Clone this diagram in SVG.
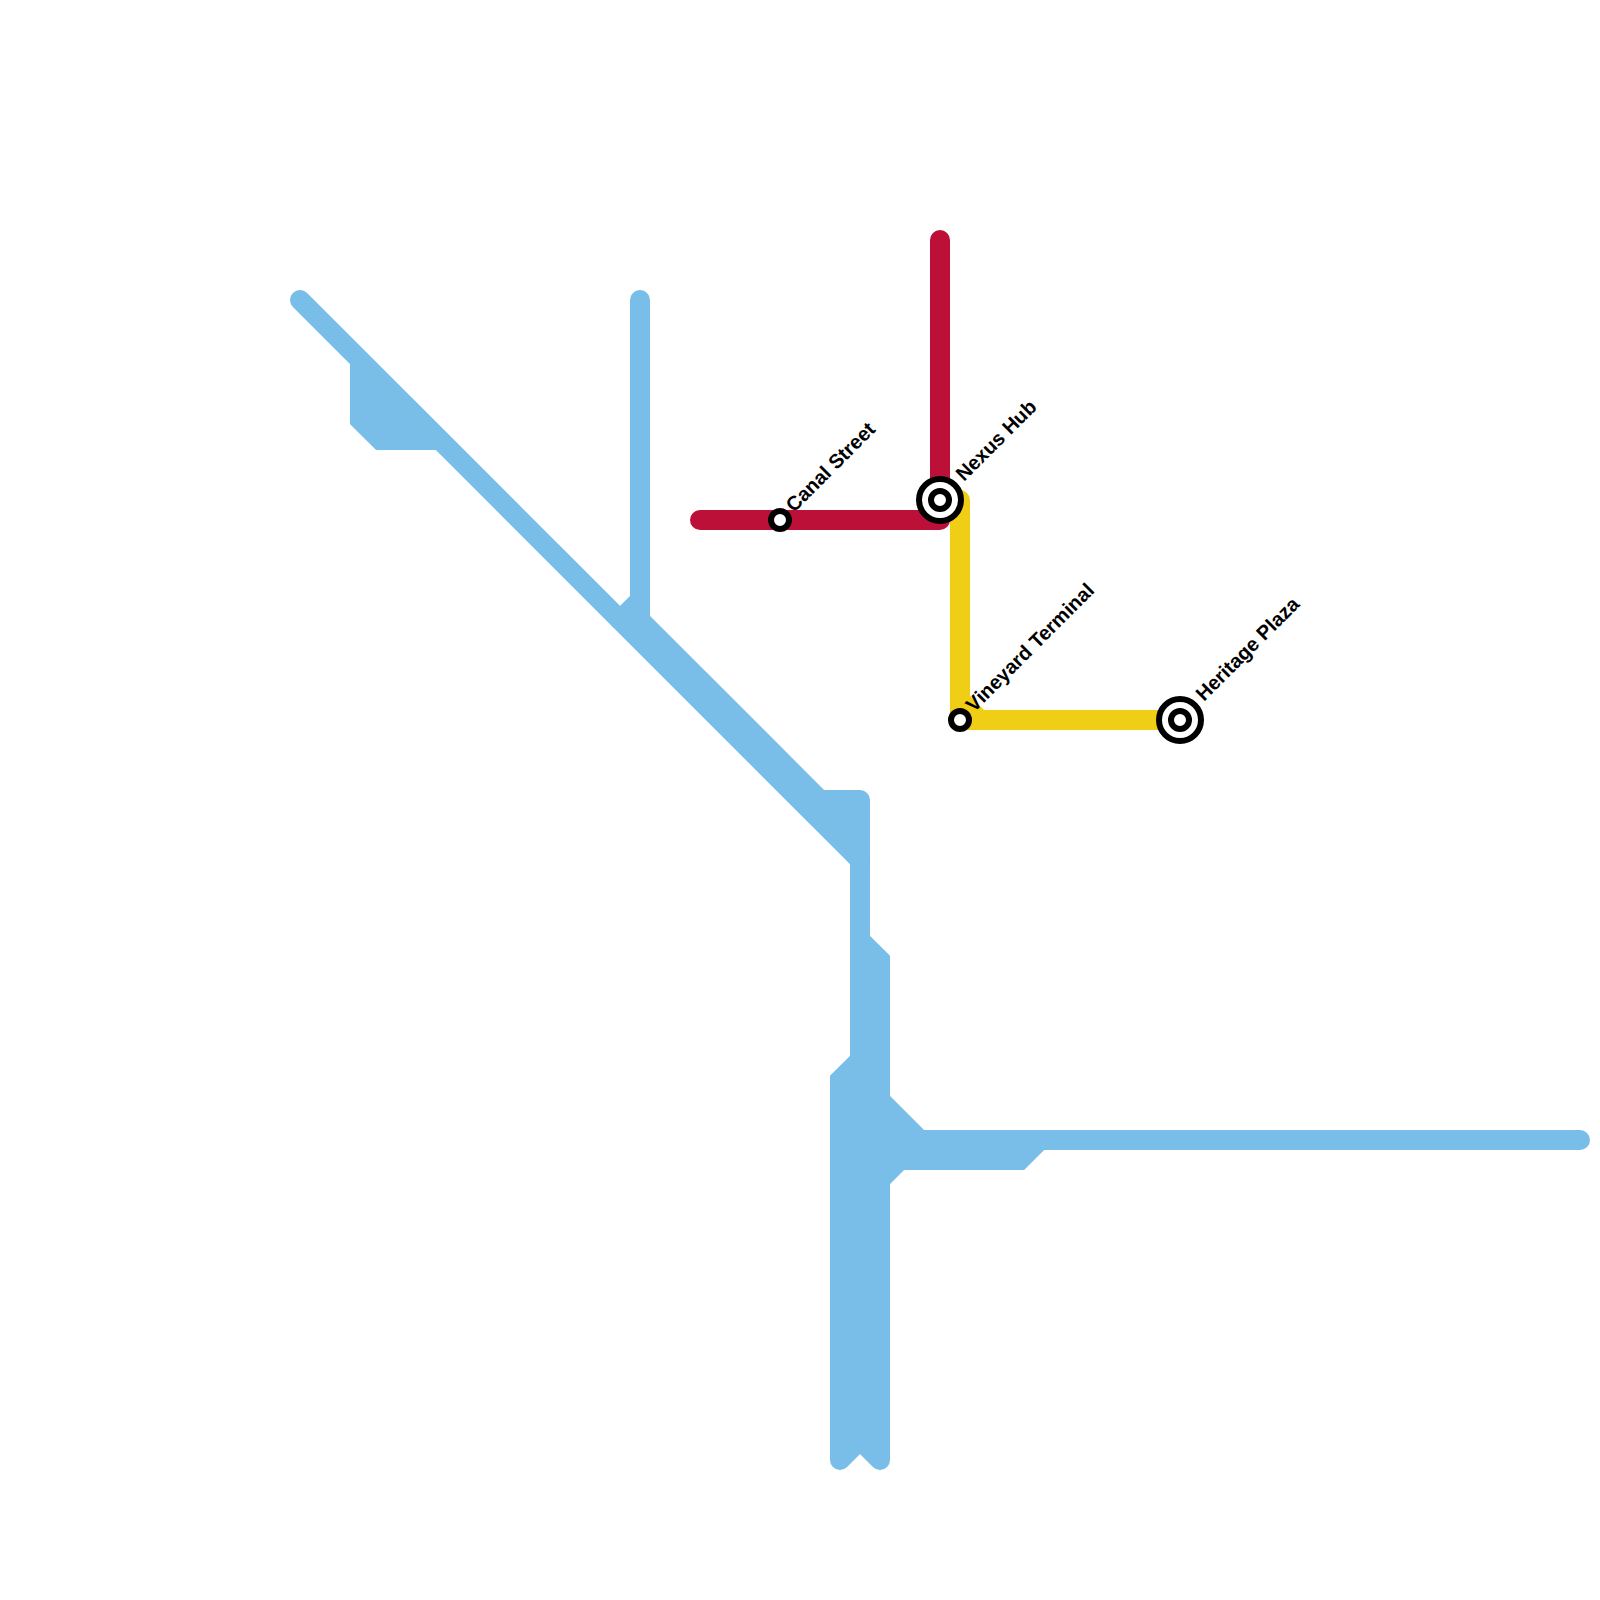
<svg xmlns="http://www.w3.org/2000/svg" width="1600" height="1600" viewBox="0 0 1600 1600">
<style>
.line{fill:none;stroke-width:20;stroke-linecap:round;stroke-linejoin:round}
.blue{stroke:#79bde9}
.block{fill:#79bde9}
.sharp{stroke-linejoin:miter}
.red{stroke:#bd1038}
.yellow{stroke:#f0ce15}
.ring{fill:#fff;stroke:#000;stroke-width:6}
.label{font-family:"Liberation Sans",Arial,sans-serif;font-weight:700;font-size:20px;fill:#000;text-rendering:geometricPrecision}
</style>
<rect width="1600" height="1600" fill="#fff"/>
<g id="connectors">
<path class="line blue" d="M300 300L860 860V1100"/>
<path class="line blue" d="M640 300V620M640 600L620 620"/>
<path class="block" stroke="#79bde9" stroke-width="3" stroke-linejoin="round" d="M351.500 360V423.400L376.600 448.500H436L440 440L360 360Z"/>
<path class="line blue block" d="M640 620L820 800H860V860Z"/>
<path class="line blue block sharp" d="M860 940L880 960V1200H840V1080L860 1060Z"/>
<path class="line blue block" d="M880 1200V1460L860 1440L840 1460V1200Z"/>
<path class="line blue block sharp" d="M880 1100L920 1140H1040L1020 1160H900L880 1180Z"/>
<path class="line blue" d="M920 1140H1580"/>
<path class="line yellow" d="M960 500V720H1180M960 700L980 720"/>
<path class="line red" d="M700 520H940V240"/>
</g>
<g id="canal-street"><circle class="ring" cx="780" cy="520" r="9"/><text class="label" transform="translate(794 513) rotate(-45)">Canal Street</text></g>
<g id="nexus-hub"><circle class="ring" cx="940" cy="500" r="21"/><circle class="ring" cx="940" cy="500" r="9"/><text class="label" transform="translate(964 482) rotate(-45)">Nexus Hub</text></g>
<g id="vineyard-terminal"><circle class="ring" cx="960" cy="720" r="9"/><text class="label" transform="translate(974 713) rotate(-45)">Vineyard Terminal</text></g>
<g id="heritage-plaza"><circle class="ring" cx="1180" cy="720" r="21"/><circle class="ring" cx="1180" cy="720" r="9"/><text class="label" transform="translate(1204 702) rotate(-45)">Heritage Plaza</text></g>
</svg>
